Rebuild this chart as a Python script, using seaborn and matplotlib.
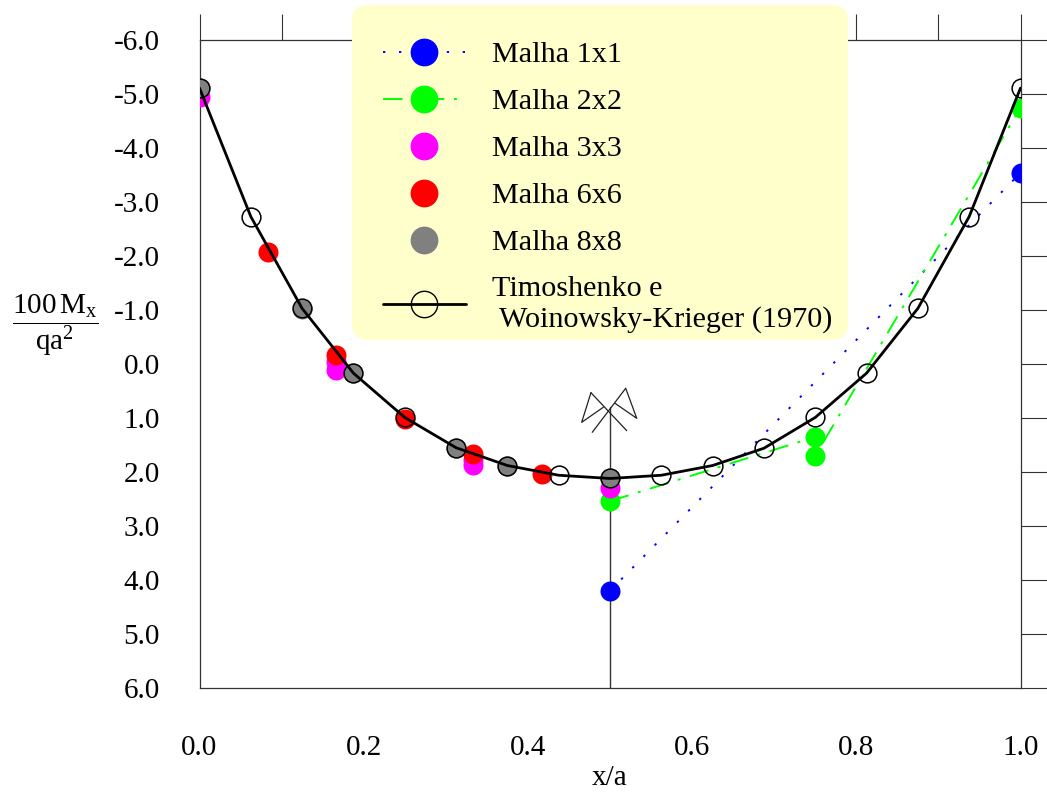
import matplotlib
matplotlib.use("Agg")
import matplotlib.pyplot as plt
from matplotlib.lines import Line2D
from matplotlib.patches import FancyBboxPatch
from matplotlib.transforms import IdentityTransform
import seaborn as sns
import numpy as np

# ---------------- data ----------------
x_1x1 = [0.5, 1.0]
y_1x1 = [4.20, -3.54]

x_2x2 = [0.5, 0.75, 0.75, 1.0]
y_2x2 = [2.54, 1.35, 1.70, -4.75]

x_3x3 = [0.0, 1/6, 1/6, 1/3, 1/3, 0.5]
y_3x3 = [-4.95, -0.04, 0.11, 1.78, 1.87, 2.29]

x_6x6 = [1/12, 1/6, 0.25, 1/3, 5/12]
y_6x6 = [-2.07, -0.17, 1.01, 1.67, 2.03]

x_8x8 = [0.0, 0.125, 0.1875, 0.3125, 0.375, 0.5]
y_8x8 = [-5.11, -1.02, 0.17, 1.55, 1.88, 2.12]

x_timo = [0.0, 0.0625, 0.125, 0.1875, 0.25, 0.3125, 0.375, 0.4375, 0.5,
          0.5625, 0.625, 0.6875, 0.75, 0.8125, 0.875, 0.9375, 1.0]
y_timo = [-5.11, -2.73, -1.03, 0.17, 0.99, 1.55, 1.88, 2.06, 2.12,
          2.06, 1.88, 1.56, 0.99, 0.17, -1.03, -2.73, -5.11]

labels = ["Malha 1x1", "Malha 2x2", "Malha 3x3", "Malha 6x6", "Malha 8x8",
          "Timoshenko e\n Woinowsky-Krieger (1970)"]
colors = ["#0000FF", "#00FF00", "#FF00FF", "#FF0000", "#808080", "#000000"]

y_ticks = list(range(-6, 7))
x_major = [0.0, 0.2, 0.4, 0.6, 0.8, 1.0]
x_minor = [0.1, 0.3, 0.5, 0.7, 0.9]

# ---------------- style ----------------
sns.set_theme(style="white")
plt.rcParams["font.family"] = ["Liberation Serif", "DejaVu Serif"]
plt.rcParams["mathtext.fontset"] = "custom"
plt.rcParams["mathtext.rm"] = "Liberation Serif"
plt.rcParams["mathtext.it"] = "Liberation Serif:italic"
plt.rcParams["text.color"] = "black"
plt.rcParams["axes.labelcolor"] = "black"

FS = 21
LFS = 21.7
W, H = 1047, 794
fig = plt.figure(figsize=(W / 100, H / 100), dpi=100)
ax = fig.add_axes([199.5 / W, 106 / H, 821 / W, 648 / H])
ax.set_facecolor("white")

ms_px = 20
s_area = (ms_px * 0.72) ** 2

dot_ls = (0, (1.2, 7))
dashdot_ls = (0, (10, 5, 1.5, 5))

# Malha 1x1
sns.lineplot(x=x_1x1, y=y_1x1, ax=ax, color=colors[0], linestyle=dot_ls,
             linewidth=1.4, estimator=None, sort=False, zorder=3)
sns.scatterplot(x=x_1x1, y=y_1x1, ax=ax, color=colors[0], s=s_area,
                linewidth=0, zorder=3.1)
# Malha 2x2
sns.lineplot(x=x_2x2, y=y_2x2, ax=ax, color=colors[1], linestyle=dashdot_ls,
             linewidth=1.4, estimator=None, sort=False, zorder=4)
sns.scatterplot(x=x_2x2, y=y_2x2, ax=ax, color=colors[1], s=s_area,
                linewidth=0, zorder=4.1)
# Malha 3x3, 6x6, 8x8
sns.scatterplot(x=x_3x3, y=y_3x3, ax=ax, color=colors[2], s=s_area,
                linewidth=0, zorder=5)
sns.scatterplot(x=x_6x6, y=y_6x6, ax=ax, color=colors[3], s=s_area,
                linewidth=0, zorder=6)
sns.scatterplot(x=x_8x8, y=y_8x8, ax=ax, color=colors[4], s=s_area,
                linewidth=0, zorder=7)
# Timoshenko
sns.lineplot(x=x_timo, y=y_timo, ax=ax, color="black", linewidth=2.0,
             estimator=None, sort=False, zorder=10, marker="o",
             markersize=13.5, markerfacecolor="none",
             markeredgecolor="black", markeredgewidth=1.1)

# symmetry line and symbol at x = 0.5
ax.plot([0.5, 0.5], [0.80, 6.0], color="#333333", lw=1.0, zorder=2)
sym_segments = [
    ([0.4784, 0.5191], [1.265, 0.450]),
    ([0.5204, 0.4768], [1.235, 0.531]),
    ([0.4768, 0.4655, 0.4918], [0.531, 1.080, 0.802]),
    ([0.5191, 0.5326, 0.5061], [0.450, 1.006, 0.728]),
]
for sx, sy in sym_segments:
    ax.plot(sx, sy, color="#222222", lw=0.9, zorder=2)

# axes
ax.set_xlim(0, 1)
ax.set_ylim(6, -6)
ax.set_yticks(y_ticks)
ax.set_yticklabels([f"{v:.1f}" for v in y_ticks])
ax.set_xticks(x_major)
ax.set_xticklabels([f"{v:.1f}" for v in x_major])
ax.set_xticks(x_minor, minor=True)
ax.tick_params(axis="both", which="both", direction="out", length=18.7,
               width=0.8, color="#333333", top=True, right=True,
               labeltop=False, labelright=False, labelsize=FS,
               labelcolor="black")
ax.tick_params(axis="y", pad=10)
ax.tick_params(axis="x", pad=15)
for sp in ax.spines.values():
    sp.set_color("#333333")
    sp.set_linewidth(0.9)

ax.set_xlabel("x/a", fontsize=FS, labelpad=3, color="black")
ax.set_ylabel("")
fig.text(55 / W, 1 - 325 / H,
         r"$\dfrac{100\,\mathrm{M}_{\mathrm{x}}}{\mathrm{qa}^{2}}$",
         fontsize=FS, ha="center", va="center", color="black")

# legend background box (pixel coordinates, origin bottom-left)
box = FancyBboxPatch((352, H - 340), 496, 335,
                     boxstyle="round,pad=0,rounding_size=16",
                     transform=IdentityTransform(), facecolor="#FFFFCC",
                     edgecolor="none", zorder=4)
fig.add_artist(box)

# legend
handles = [
    Line2D([], [], color=colors[0], linestyle=dot_ls, linewidth=1.4,
           marker="o", markersize=19, markerfacecolor=colors[0],
           markeredgecolor=colors[0]),
    Line2D([], [], color=colors[1], linestyle=dashdot_ls, linewidth=1.4,
           marker="o", markersize=19, markerfacecolor=colors[1],
           markeredgecolor=colors[1]),
    Line2D([], [], color=colors[2], linestyle="None", marker="o",
           markersize=19, markerfacecolor=colors[2], markeredgecolor=colors[2]),
    Line2D([], [], color=colors[3], linestyle="None", marker="o",
           markersize=19, markerfacecolor=colors[3], markeredgecolor=colors[3]),
    Line2D([], [], color=colors[4], linestyle="None", marker="o",
           markersize=19, markerfacecolor=colors[4], markeredgecolor=colors[4]),
    Line2D([], [], color="black", linestyle="-", linewidth=2.0, marker="o",
           markersize=19, markerfacecolor="none", markeredgecolor="black",
           markeredgewidth=1.0),
]
leg = fig.legend(handles, labels, loc="upper left",
                 bbox_to_anchor=(383 / W, 1 - 41 / H),
                 bbox_transform=fig.transFigure, frameon=False,
                 fontsize=LFS, handlelength=2.75,
                 handletextpad=0.88, labelspacing=0.66, borderpad=0,
                 borderaxespad=0)
leg.set_zorder(5)
for t in leg.get_texts():
    t.set_color("black")

fig.savefig("out.png", dpi=100)
